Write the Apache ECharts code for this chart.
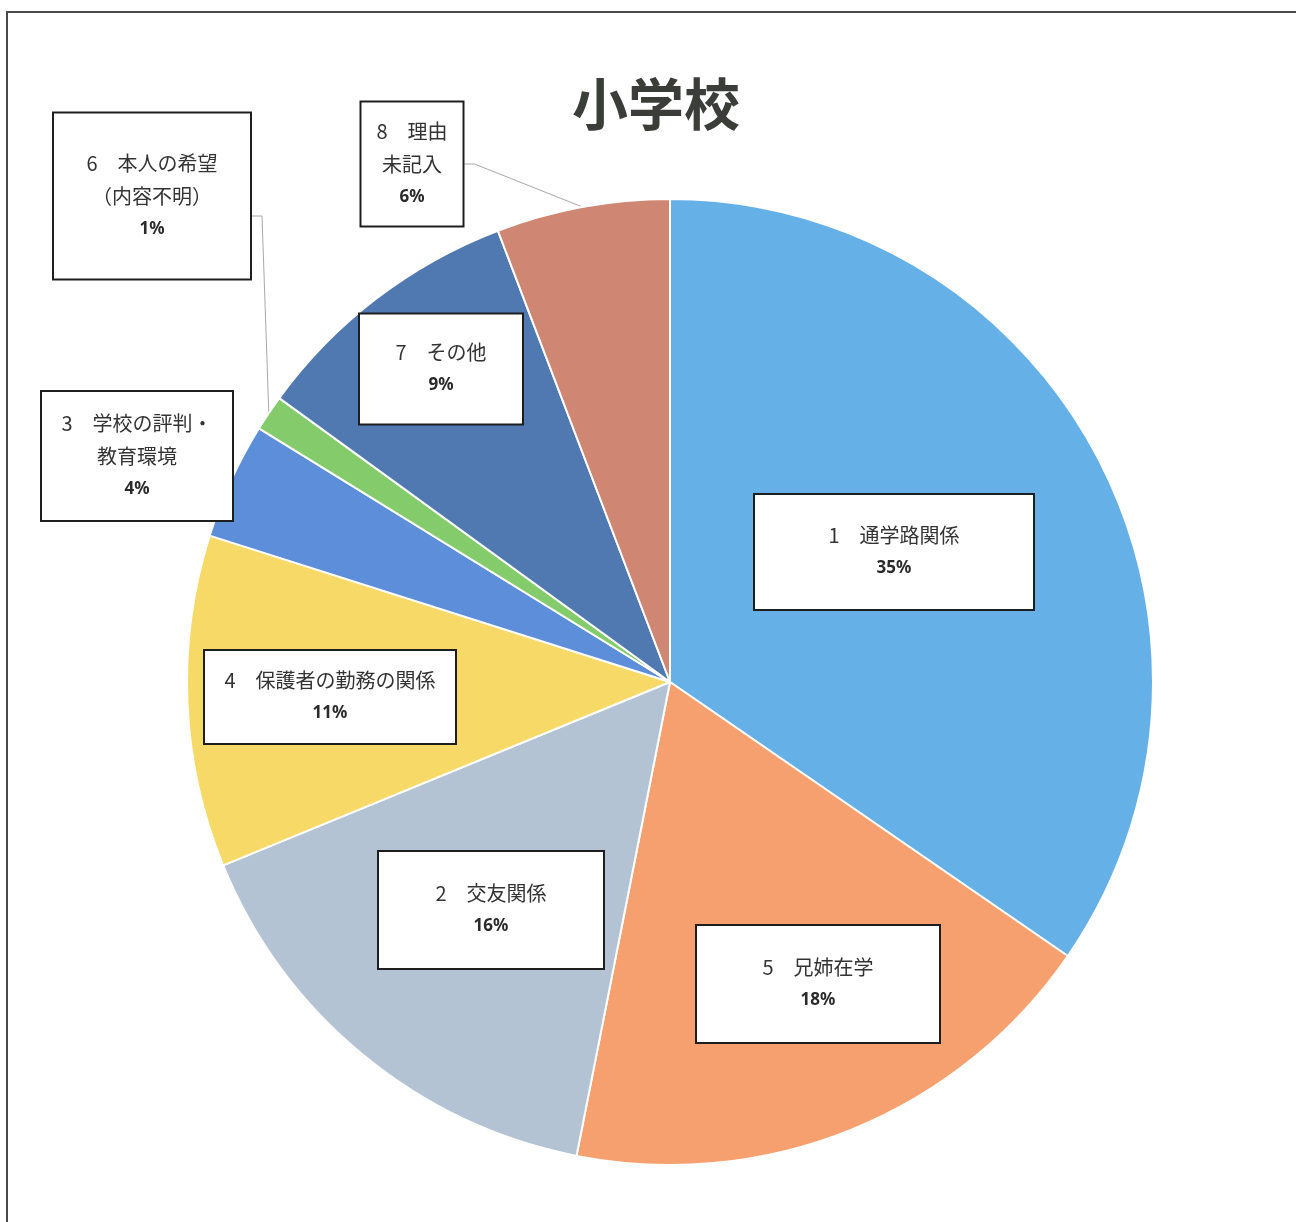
<!DOCTYPE html>
<html>
<head>
<meta charset="utf-8">
<script src="https://cdn.jsdelivr.net/npm/echarts@6/dist/echarts.min.js"></script>
<style>
html,body{margin:0;padding:0;background:#fff;}
#chart{width:1296px;height:1222px;position:absolute;left:0;top:0;}
#frame{position:absolute;left:6px;top:11px;width:1290px;height:1211px;border-top:2px solid #4a4a4a;border-left:2px solid #4a4a4a;pointer-events:none;}
</style>
</head>
<body>
<div id="chart"></div>
<div id="frame"></div>
<script>
// ---- data ----
const titleText = '小学校';
const categories = [
  '1　通学路関係',
  '5　兄姉在学',
  '2　交友関係',
  '4　保護者の勤務の関係',
  '3　学校の評判・\n教育環境',
  '6　本人の希望\n（内容不明）',
  '7　その他',
  '8　理由\n未記入'
];
const values = [34.6, 18.5, 15.7, 11.1, 3.9, 1.2, 9.2, 5.8];

// ---- styles / layout (not data) ----
const colors = ['#66b0e8', '#f5a06e', '#b3c3d4', '#f6d967', '#5c8ed9', '#84cc6b', '#4f79b0', '#cf8673'];
// label box centre x, centre y, width, height
const labelBoxes = [
  [894, 552, 278, 114],
  [818, 984, 242, 116],
  [491, 910, 224, 116],
  [330, 697, 250, 92],
  [137, 456, 190, 128],
  [152, 196, 196, 165],
  [441, 369, 162, 109],
  [412, 164, 101, 123]
];
const outsideIdx = [5, 7];
const LH = 33;

const data = categories.map((c, i) => {
  const nLines = c.split('\n').length + 1;
  const b = labelBoxes[i];
  const padV = Math.max(0, (b[3] - nLines * LH) / 2);
  return {
    name: c,
    value: values[i],
    itemStyle: { color: colors[i] },
    label: { width: b[2] - 4, padding: [padV, 2, padV, 2] },
    labelLine: { show: outsideIdx.indexOf(i) >= 0 }
  };
});

const chart = echarts.init(document.getElementById('chart'), null, { renderer: 'canvas' });
chart.setOption({
  animation: false,
  backgroundColor: '#fff',
  title: {
    text: titleText,
    left: 567,
    top: 71,
    textStyle: { fontFamily: 'Noto Sans CJK JP', fontWeight: 'bold', fontSize: 56, color: '#3a3d38' }
  },
  series: [{
    type: 'pie',
    center: [670, 682],
    radius: 483,
    startAngle: 90,
    clockwise: true,
    avoidLabelOverlap: false,
    percentPrecision: 0,
    emphasis: { disabled: true },
    itemStyle: { borderColor: '#ffffff', borderWidth: 2 },
    label: {
      show: true,
      position: 'outside',
      formatter: p => p.name + '\n{p|' + p.percent + '%}',
      fontFamily: 'Noto Sans CJK JP',
      fontSize: 20,
      color: '#333',
      lineHeight: LH,
      align: 'center',
      backgroundColor: '#ffffff',
      borderColor: '#1e1e1e',
      borderWidth: 2,
      rich: {
        p: { fontFamily: 'Noto Sans', fontSize: 17, fontWeight: 'bold', color: '#2a2a2a', lineHeight: LH }
      }
    },
    labelLine: { show: false, lineStyle: { color: '#a8a8a8', width: 1 } },
    labelLayout: function (params) {
      const i = params.dataIndex;
      const b = labelBoxes[i];
      const res = { x: b[0], y: b[1], align: 'center', verticalAlign: 'middle' };
      if (outsideIdx.indexOf(i) >= 0 && params.labelLinePoints) {
        const a = params.labelLinePoints[0];
        const right = b[0] + b[2] / 2;
        const y = i === 5 ? b[1] + 20 : b[1];
        res.labelLinePoints = [[a[0], a[1]], [right + 12, y], [right, y]];
      }
      return res;
    },
    data: data
  }]
});
</script>
</body>
</html>
